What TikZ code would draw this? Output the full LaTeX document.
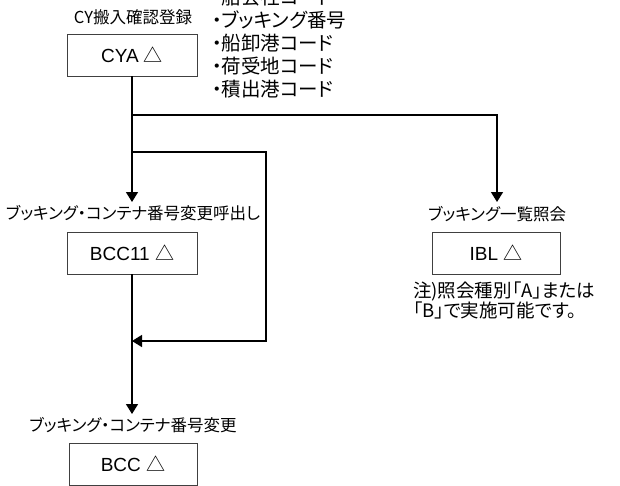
\documentclass[tikz,border=0pt]{standalone}
\usepackage{fontspec}
\setmainfont{Liberation Sans}
\newfontfamily\jp{Noto Sans CJK JP}[RawFeature=+palt]
\usetikzlibrary{arrows.meta}
\tikzset{
  box/.style={draw=black!75, line width=0.8pt, minimum width=130pt, minimum height=42pt, inner sep=0pt, font=\fontsize{19}{22}\selectfont},
  lbl/.style={inner sep=0pt, font=\jp\fontsize{16.5}{19}\selectfont},
  conn/.style={line width=1.4pt, -{Triangle[width=12pt,length=10pt]}},
}
\newcommand{\tri}{{\jp △}}
\begin{document}
\begin{tikzpicture}[x=1pt,y=-1pt]
\useasboundingbox (0,0) rectangle (620,485);
% boxes
\node[box] (cya) at (132,55) {CYA \tri};
\node[lbl] (cyal) at (133,17) {CY搬入確認登録};
\node[inner sep=0pt, anchor=west, align=left, font=\jp\fontsize{19.5}{23}\selectfont] (items) at (212,43)
  {・船会社コード\\・ブッキング番号\\・船卸港コード\\・荷受地コード\\・積出港コード};
\node[box] (bcc11) at (132,253) {BCC11 \tri};
\node[lbl] (bcc11l) at (133,213) {ブッキング・コンテナ番号変更呼出し};
\node[box, minimum width=128pt] (ibl) at (496,253) {IBL \tri};
\node[lbl] (ibll) at (497,214) {ブッキング一覧照会};
\node[inner sep=0pt, anchor=north west, align=left, font=\jp\fontsize{18.5}{19.5}\selectfont] (note) at (413,282)
  {注)照会種別「A」または\\「B」で実施可能です。};
\node[box, minimum width=128pt] (bcc) at (133,464) {BCC \tri};
\node[lbl] (bccl) at (133,425) {ブッキング・コンテナ番号変更};
% junctions
\coordinate (j1) at (132,115);
\coordinate (j2) at (132,152);
\coordinate (r1) at (497,115);
\coordinate (t1) at (497,202);
\coordinate (t0) at (132,202);
\coordinate (r2) at (266,152);
\coordinate (r3) at (266,341);
\coordinate (m1) at (132,341);
\coordinate (t2) at (132,414);
% connectors
\draw[conn] (cya.south) -- (t0);
\draw[conn] (j1) -- (r1) -- (t1);
\draw[conn] (j2) -- (r2) -- (r3) -- (m1);
\draw[conn] (bcc11.south) -- (t2);
\end{tikzpicture}
\end{document}
